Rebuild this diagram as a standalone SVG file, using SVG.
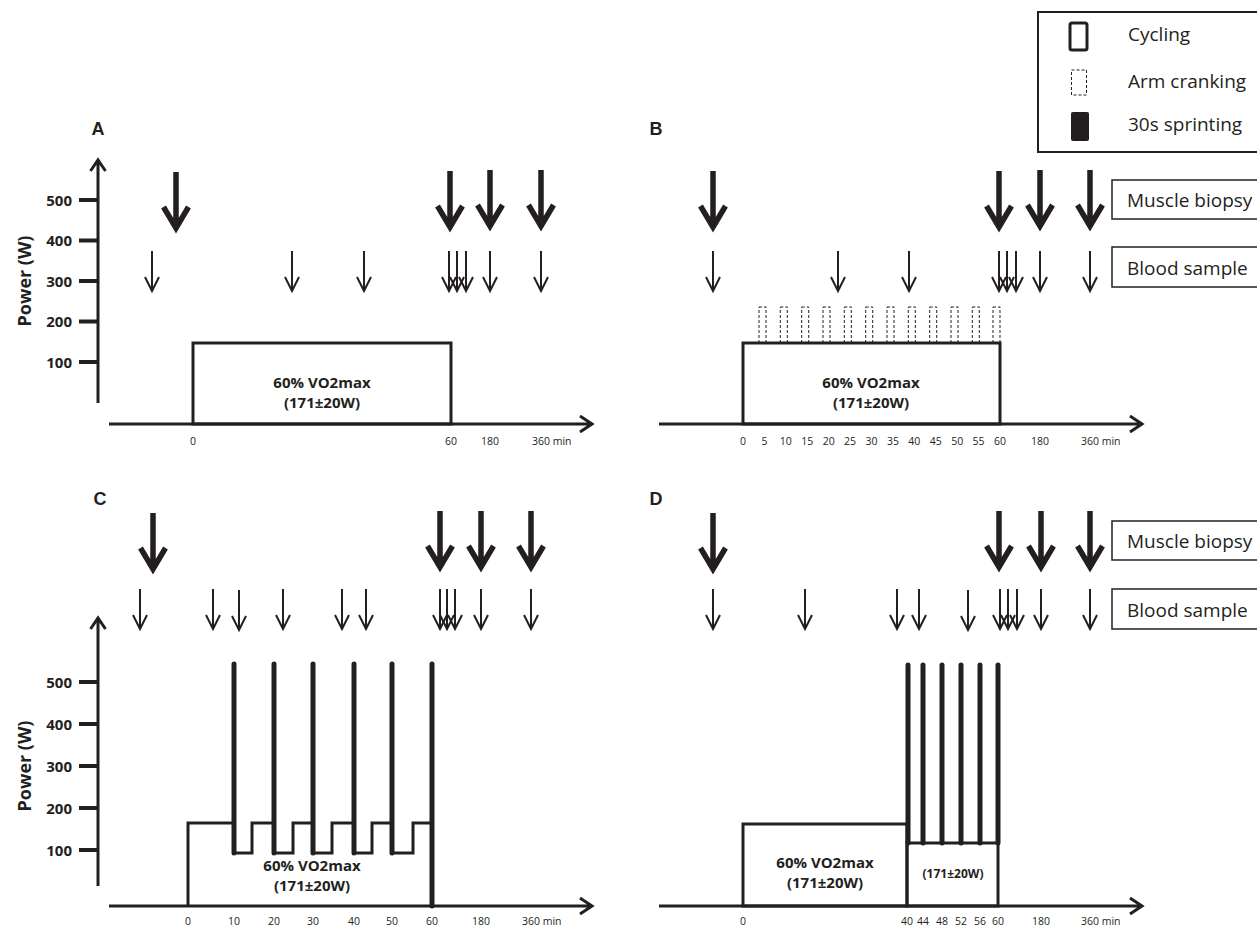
<svg xmlns="http://www.w3.org/2000/svg" xmlns:xlink="http://www.w3.org/1999/xlink" width="1257" height="926" viewBox="0 0 1257 926">
<style>
.ln{stroke:#231f20;fill:none;stroke-width:3}
.ax{stroke:#231f20;fill:none;stroke-width:3}
.tk{stroke:#231f20;stroke-width:4}
.sp{stroke:#231f20;stroke-width:5;stroke-linecap:round}
.dash{stroke:#231f20;fill:none;stroke-width:1;stroke-dasharray:3 2}
.pl{font-family:"Liberation Sans",Arial,sans-serif;font-weight:bold;font-size:18px;fill:#231f20;text-anchor:middle}
.tl{font-family:"Open Sans","Liberation Sans",sans-serif;font-weight:bold;font-size:15px;fill:#231f20;text-anchor:end}
.yl{font-family:"Open Sans","Liberation Sans",sans-serif;font-weight:bold;font-size:18px;fill:#231f20;text-anchor:middle}
.xl{font-family:"Open Sans","Liberation Sans",sans-serif;font-size:10.5px;fill:#231f20;text-anchor:middle}
.xs{font-family:"Open Sans","Liberation Sans",sans-serif;font-size:10.5px;fill:#231f20}
.bx{font-family:"Open Sans","Liberation Sans",sans-serif;font-weight:bold;font-size:15px;fill:#231f20;text-anchor:middle}
.bs{font-family:"Open Sans","Liberation Sans",sans-serif;font-weight:bold;font-size:12px;fill:#231f20;text-anchor:middle}
.lg{font-family:"Open Sans","Liberation Sans",sans-serif;font-size:19px;fill:#231f20}
.box{stroke:#231f20;fill:#fff;stroke-width:1.5}
</style>
<defs>
<g id="big"><path d="M0,0 V55 M-12.5,35 L0,56 L12.5,35" fill="none" stroke="#231f20" stroke-width="5.5"/></g>
<g id="small"><path d="M0,0 V39 M-7,26 L0,40 L7,26" fill="none" stroke="#231f20" stroke-width="2"/></g>
</defs>

<g id="legend">
<rect x="1038" y="12" width="240" height="140" fill="#fff" stroke="#231f20" stroke-width="2"/>
<rect x="1070" y="23" width="17" height="27" rx="2" fill="none" stroke="#231f20" stroke-width="3"/>
<text class="lg" x="1128" y="41">Cycling</text>
<rect x="1071.5" y="70" width="15" height="25" class="dash"/>
<text class="lg" x="1128" y="88">Arm cranking</text>
<rect x="1071" y="112" width="18" height="29" rx="2" fill="#231f20"/>
<text class="lg" x="1128" y="131">30s sprinting</text>
</g>

<g id="labels-row1">
<rect class="box" x="1112" y="180" width="160" height="39"/>
<text class="lg" x="1127" y="207">Muscle biopsy</text>
<rect class="box" x="1112" y="247" width="160" height="40"/>
<text class="lg" x="1127" y="275">Blood sample</text>
</g>
<g id="labels-row2">
<rect class="box" x="1112" y="521" width="160" height="39"/>
<text class="lg" x="1127" y="548">Muscle biopsy</text>
<rect class="box" x="1112" y="589" width="160" height="40"/>
<text class="lg" x="1127" y="617">Blood sample</text>
</g>

<g id="panelA">
<text class="pl" x="98" y="135">A</text>
<path class="ax" d="M98,403 V160 M90.5,171 L98,160 L105.5,171"/>
<path class="tk" d="M79,200 H98 M79,240.5 H98 M79,281 H98 M79,321.5 H98 M79,362 H98"/>
<text class="tl" x="72" y="205.5">500</text>
<text class="tl" x="72" y="246">400</text>
<text class="tl" x="72" y="286.5">300</text>
<text class="tl" x="72" y="327">200</text>
<text class="tl" x="72" y="367.5">100</text>
<text class="yl" transform="translate(31,281) rotate(-90)">Power (W)</text>
<path class="ax" d="M109,424 H592 M580,416 L592,424 L580,432"/>
<rect class="ln" x="193" y="343" width="258" height="81"/>
<text class="bx" x="322" y="388">60% VO2max</text>
<text class="bx" x="322" y="408">(171±20W)</text>
<text class="xl" x="193" y="445">0</text>
<text class="xl" x="451" y="445">60</text>
<text class="xl" x="490" y="445">180</text>
<text class="xs" x="532" y="445">360 min</text>
</g>

<g id="panelB">
<text class="pl" x="656" y="135">B</text>
<path class="ax" d="M659,424 H1142 M1130,416 L1142,424 L1130,432"/>
<g id="armcranking">
<rect class="dash" x="759" y="307" width="7" height="36"/>
<rect class="dash" x="780.3" y="307" width="7" height="36"/>
<rect class="dash" x="801.7" y="307" width="7" height="36"/>
<rect class="dash" x="823" y="307" width="7" height="36"/>
<rect class="dash" x="844.3" y="307" width="7" height="36"/>
<rect class="dash" x="865.7" y="307" width="7" height="36"/>
<rect class="dash" x="887" y="307" width="7" height="36"/>
<rect class="dash" x="908.3" y="307" width="7" height="36"/>
<rect class="dash" x="929.7" y="307" width="7" height="36"/>
<rect class="dash" x="951" y="307" width="7" height="36"/>
<rect class="dash" x="972.3" y="307" width="7" height="36"/>
<rect class="dash" x="993" y="307" width="7" height="36"/>
</g>
<rect class="ln" x="743" y="343" width="257" height="81"/>
<text class="bx" x="871" y="388">60% VO2max</text>
<text class="bx" x="871" y="408">(171±20W)</text>
<text class="xl" x="743" y="445">0</text>
<text class="xl" x="764.4" y="445">5</text>
<text class="xl" x="785.8" y="445">10</text>
<text class="xl" x="807.3" y="445">15</text>
<text class="xl" x="828.7" y="445">20</text>
<text class="xl" x="850.1" y="445">25</text>
<text class="xl" x="871.5" y="445">30</text>
<text class="xl" x="892.9" y="445">35</text>
<text class="xl" x="914.3" y="445">40</text>
<text class="xl" x="935.8" y="445">45</text>
<text class="xl" x="957.2" y="445">50</text>
<text class="xl" x="978.6" y="445">55</text>
<text class="xl" x="1000" y="445">60</text>
<text class="xl" x="1040" y="445">180</text>
<text class="xs" x="1081" y="445">360 min</text>
</g>

<g id="panelC">
<text class="pl" x="100" y="505">C</text>
<path class="ax" d="M98,886 V618 M90.5,629 L98,618 L105.5,629"/>
<path class="tk" d="M79,682 H98 M79,724 H98 M79,766 H98 M79,808 H98 M79,850 H98"/>
<text class="tl" x="72" y="687.5">500</text>
<text class="tl" x="72" y="729.5">400</text>
<text class="tl" x="72" y="771.5">300</text>
<text class="tl" x="72" y="813.5">200</text>
<text class="tl" x="72" y="855.5">100</text>
<text class="yl" transform="translate(31,766) rotate(-90)">Power (W)</text>
<path class="ax" d="M109,906 H592 M580,898 L592,906 L580,914"/>
<path class="ln" d="M188,906 V823 H234 V853 H252 V823 H274 V853 H293 V823 H313 V853 H332 V823 H354 V853 H372 V823 H392 V853 H413 V823 H432 V906"/>
<path class="sp" d="M234,664 V853 M274,664 V853 M313,664 V853 M354,664 V853 M392,664 V853 M432,664 V906"/>
<text class="bx" x="312" y="871">60% VO2max</text>
<text class="bx" x="312" y="891">(171±20W)</text>
<text class="xl" x="188" y="925">0</text>
<text class="xl" x="234" y="925">10</text>
<text class="xl" x="274" y="925">20</text>
<text class="xl" x="313" y="925">30</text>
<text class="xl" x="354" y="925">40</text>
<text class="xl" x="392" y="925">50</text>
<text class="xl" x="432" y="925">60</text>
<text class="xl" x="481" y="925">180</text>
<text class="xs" x="522" y="925">360 min</text>
</g>

<g id="panelD">
<text class="pl" x="656" y="505">D</text>
<path class="ax" d="M659,906 H1142 M1130,898 L1142,906 L1130,914"/>
<rect class="ln" x="743" y="824" width="164" height="82"/>
<rect class="ln" x="907" y="843" width="91" height="63"/>
<path class="sp" d="M908,665 V843 M923,665 V843 M942,665 V843 M961,665 V843 M980,665 V843 M998,665 V843"/>
<text class="bx" x="825" y="868">60% VO2max</text>
<text class="bx" x="825" y="888">(171±20W)</text>
<text class="bs" x="953" y="878">(171±20W)</text>
<text class="xl" x="743" y="925">0</text>
<text class="xl" x="907" y="925">40</text>
<text class="xl" x="923" y="925">44</text>
<text class="xl" x="942" y="925">48</text>
<text class="xl" x="961" y="925">52</text>
<text class="xl" x="980" y="925">56</text>
<text class="xl" x="998" y="925">60</text>
<text class="xl" x="1041" y="925">180</text>
<text class="xs" x="1081" y="925">360 min</text>
</g>

<g id="connectors">
<use xlink:href="#big" x="176" y="172"/>
<use xlink:href="#big" x="450" y="171"/>
<use xlink:href="#big" x="490" y="170"/>
<use xlink:href="#big" x="541" y="170"/>
<use xlink:href="#small" x="152" y="251"/>
<use xlink:href="#small" x="292" y="251"/>
<use xlink:href="#small" x="364" y="251"/>
<use xlink:href="#small" x="449" y="251"/>
<use xlink:href="#small" x="457" y="251"/>
<use xlink:href="#small" x="466" y="251"/>
<use xlink:href="#small" x="490" y="251"/>
<use xlink:href="#small" x="541" y="251"/>

<use xlink:href="#big" x="713" y="171"/>
<use xlink:href="#big" x="999" y="171"/>
<use xlink:href="#big" x="1040" y="170"/>
<use xlink:href="#big" x="1090" y="170"/>
<use xlink:href="#small" x="713" y="251"/>
<use xlink:href="#small" x="838" y="251"/>
<use xlink:href="#small" x="909" y="251"/>
<use xlink:href="#small" x="999" y="251"/>
<use xlink:href="#small" x="1007" y="251"/>
<use xlink:href="#small" x="1016" y="251"/>
<use xlink:href="#small" x="1040" y="251"/>
<use xlink:href="#small" x="1090" y="251"/>

<use xlink:href="#big" x="153" y="513"/>
<use xlink:href="#big" x="440" y="511"/>
<use xlink:href="#big" x="481" y="511"/>
<use xlink:href="#big" x="531" y="511"/>
<use xlink:href="#small" x="140" y="589"/>
<use xlink:href="#small" x="213" y="589"/>
<use xlink:href="#small" x="239" y="590"/>
<use xlink:href="#small" x="283" y="589"/>
<use xlink:href="#small" x="342" y="589"/>
<use xlink:href="#small" x="366" y="589"/>
<use xlink:href="#small" x="440" y="589"/>
<use xlink:href="#small" x="447" y="589"/>
<use xlink:href="#small" x="455" y="589"/>
<use xlink:href="#small" x="481" y="589"/>
<use xlink:href="#small" x="531" y="589"/>

<use xlink:href="#big" x="713" y="513"/>
<use xlink:href="#big" x="999" y="511"/>
<use xlink:href="#big" x="1041" y="511"/>
<use xlink:href="#big" x="1090" y="511"/>
<use xlink:href="#small" x="713" y="589"/>
<use xlink:href="#small" x="805" y="589"/>
<use xlink:href="#small" x="897" y="589"/>
<use xlink:href="#small" x="919" y="589"/>
<use xlink:href="#small" x="968" y="590"/>
<use xlink:href="#small" x="1000" y="589"/>
<use xlink:href="#small" x="1008" y="589"/>
<use xlink:href="#small" x="1017" y="589"/>
<use xlink:href="#small" x="1041" y="589"/>
<use xlink:href="#small" x="1090" y="589"/>
</g>
</svg>
